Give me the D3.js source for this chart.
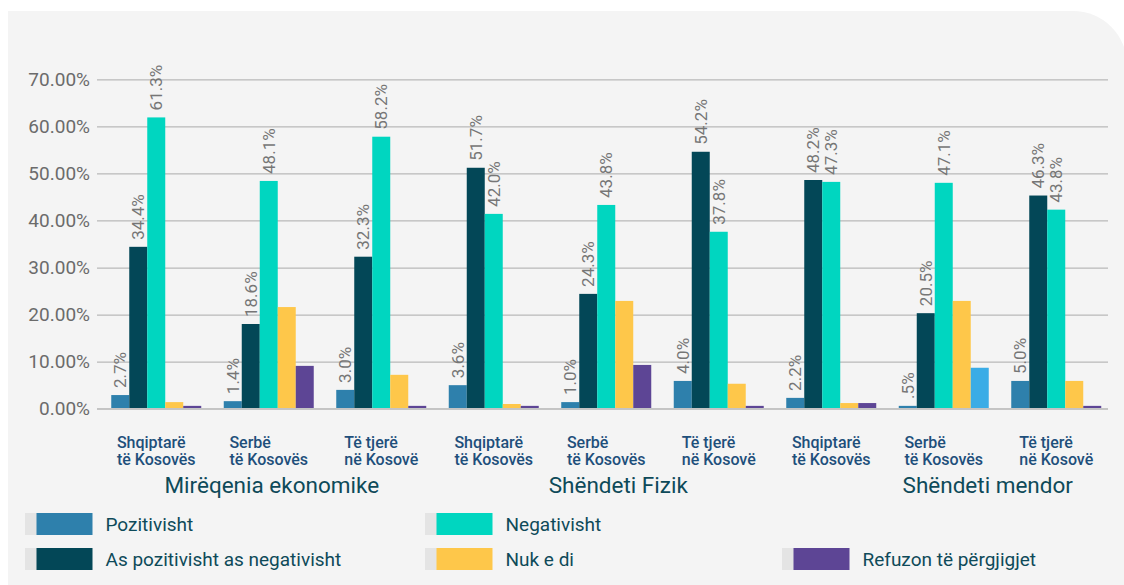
<!DOCTYPE html>
<html>
<head>
<meta charset="utf-8">
<script src="https://cdn.jsdelivr.net/npm/d3@7"></script>
<style>
  html, body { margin: 0; padding: 0; background: #fff; }
  svg { display: block; font-family: Roboto, "Noto Sans", sans-serif; }
</style>
</head>
<body>
<div id="container"></div>
<script>
// Categories (two text lines each) and the three topics they belong to
var groupLabels = [
  ["Shqiptarë", "të Kosovës"], ["Serbë", "të Kosovës"], ["Të tjerë", "në Kosovë"],
  ["Shqiptarë", "të Kosovës"], ["Serbë", "të Kosovës"], ["Të tjerë", "në Kosovë"],
  ["Shqiptarë", "të Kosovës"], ["Serbë", "të Kosovës"], ["Të tjerë", "në Kosovë"]
]
var topics = ["Mirëqenia ekonomike", "Shëndeti Fizik", "Shëndeti mendor"]

// Series names, in bar order
var seriesNames = ["Pozitivisht", "As pozitivisht as negativisht", "Negativisht", "Nuk e di", "Refuzon të përgjigjet"]

// Bar heights in %
var pozitivisht   = [2.9, 1.6, 4.0, 5.0, 1.4, 5.9, 2.3, 0.6, 5.9]
var asPozitivisht = [34.4, 18.0, 32.3, 51.2, 24.4, 54.6, 48.6, 20.3, 45.3]
var negativisht   = [61.9, 48.4, 57.8, 41.4, 43.3, 37.6, 48.2, 48.0, 42.3]
var nukEDi        = [1.4, 21.6, 7.2, 1.0, 22.9, 5.3, 1.2, 22.9, 5.9]
var refuzon       = [0.6, 9.1, 0.6, 0.6, 9.3, 0.6, 1.2, 8.7, 0.6]

// Printed data labels (only the first three series carry labels)
var labelsPozitivisht   = ["2.7%", "1.4%", "3.0%", "3.6%", "1.0%", "4.0%", "2.2%", ".5%", "5.0%"]
var labelsAsPozitivisht = ["34.4%", "18.6%", "32.3%", "51.7%", "24.3%", "54.2%", "48.2%", "20.5%", "46.3%"]
var labelsNegativisht   = ["61.3%", "48.1%", "58.2%", "42.0%", "43.8%", "37.8%", "47.3%", "47.1%", "43.8%"]

// Y axis ticks
var yTicks = [0, 10, 20, 30, 40, 50, 60, 70]

// Colours per series, plus the one bar that is drawn in a different blue
var colors = ["#2e80ac", "#034757", "#00d6c0", "#fec74a", "#5d4595"]
var oddBar = {group: 7, series: 4, color: "#3aace6"}

// Layout
var width = 1124, height = 585
var plot = {left: 97, right: 1108, top: 79.3, bottom: 408.7}
var topicShift = [3, 12, 44]
var legendColX = [25, 425, 782]
var legendRowY = [513, 548]
var legendSlots = [[0, 0], [0, 1], [1, 0], [1, 1], [2, 1]]

var values = [pozitivisht, asPozitivisht, negativisht, nukEDi, refuzon]
var labels = [labelsPozitivisht, labelsAsPozitivisht, labelsNegativisht, null, null]

var svg = d3.select("#container")
            .append("svg")
            .attr("width", width)
            .attr("height", height)

// Grey panel with rounded top-right corner
svg.append("path")
   .attr("d", "M8,11 H1073 A54,54 0 0 1 1127,65 V585 H8 Z")
   .attr("fill", "#f4f4f4")

// Scales
var groupIdx = d3.range(groupLabels.length)
var xScale = d3.scaleBand()
               .domain(groupIdx)
               .range([100, 1112.5])
               .paddingInner(0.2)
               .paddingOuter(0.1)

var xInner = d3.scaleBand()
               .domain(d3.range(seriesNames.length))
               .range([0, xScale.bandwidth()])

var yScale = d3.scaleLinear()
               .domain([0, 70])
               .range([plot.bottom, plot.top])

// Gridlines and tick labels
var yAxis = d3.axisLeft(yScale)
              .tickValues(yTicks)
              .tickSize(-(plot.right - plot.left))
              .tickPadding(7)
              .tickFormat(function(d) { return d3.format(".2f")(d) + "%" })

var yG = svg.append("g")
            .attr("transform", "translate(" + plot.left + ",0)")
            .call(yAxis)
yG.select(".domain").remove()
yG.selectAll(".tick line")
  .attr("stroke", "#b9b9b9")
  .attr("stroke-width", 1.3)
yG.selectAll(".tick text")
  .attr("fill", "#6b6b6b")
  .attr("font-size", 19)
  .attr("font-family", "Roboto, sans-serif")

// Bars
var cells = []
groupIdx.forEach(function(g) {
  values.forEach(function(series, s) {
    cells.push({group: g, series: s, value: series[g], label: labels[s] ? labels[s][g] : null})
  })
})

svg.append("g").selectAll("rect")
   .data(cells)
   .enter()
   .append("rect")
   .attr("x", function(d) { return xScale(d.group) + xInner(d.series) })
   .attr("y", function(d) { return yScale(d.value) })
   .attr("width", xInner.bandwidth())
   .attr("height", function(d) { return yScale(0) - yScale(d.value) })
   .attr("fill", function(d) {
     if (d.group == oddBar.group && d.series == oddBar.series) return oddBar.color
     return colors[d.series]
   })

// Baseline drawn over the bars
svg.append("line")
   .attr("x1", plot.left).attr("x2", plot.right)
   .attr("y1", yScale(0)).attr("y2", yScale(0))
   .attr("stroke", "#c4c4c4")
   .attr("stroke-width", 1.5)

// Rotated value labels
svg.append("g").selectAll("text")
   .data(cells.filter(function(d) { return d.label }))
   .enter()
   .append("text")
   .attr("transform", function(d) {
     var cx = xScale(d.group) + xInner(d.series) + xInner.bandwidth() / 2
     return "translate(" + cx + "," + (yScale(d.value) - 7) + ") rotate(-90)"
   })
   .attr("dy", "0.36em")
   .attr("fill", "#767676")
   .attr("font-size", 17)
   .text(function(d) { return d.label })

// Category labels: two left-aligned lines, block centred under the group
var catG = svg.append("g").selectAll("g")
   .data(groupIdx)
   .enter()
   .append("g")

catG.each(function(g) {
  var node = d3.select(this)
  var lines = groupLabels[g].map(function(t, i) {
    return node.append("text")
               .attr("y", 447.7 + i * 17.3)
               .attr("fill", "#1e4f7b")
               .attr("font-size", 16)
               .attr("font-weight", 500)
               .text(t)
  })
  var w = d3.max(lines, function(t) { return t.node().getComputedTextLength() })
  var left = xScale(g) + xScale.bandwidth() / 2 - w / 2
  lines.forEach(function(t) { t.attr("x", left) })
})

// Topic titles under each cluster of three groups
svg.append("g").selectAll("text")
   .data(topics)
   .enter()
   .append("text")
   .attr("x", function(d, i) {
     var first = xScale(i * 3), last = xScale(i * 3 + 2) + xScale.bandwidth()
     return (first + last) / 2 + topicShift[i]
   })
   .attr("y", 493)
   .attr("text-anchor", "middle")
   .attr("fill", "#0e4a59")
   .attr("font-size", 22.5)
   .text(function(d) { return d })

// Legend
var legend = svg.append("g").selectAll("g")
   .data(seriesNames)
   .enter()
   .append("g")
   .attr("transform", function(d, i) {
     var slot = legendSlots[i]
     return "translate(" + legendColX[slot[0]] + "," + legendRowY[slot[1]] + ")"
   })

legend.append("rect")
      .attr("width", 12).attr("height", 22)
      .attr("fill", "#e4e4e4")
legend.append("rect")
      .attr("x", 11.5).attr("width", 56).attr("height", 22)
      .attr("fill", function(d, i) { return colors[i] })
legend.append("text")
      .attr("x", 80.5)
      .attr("y", 17.8)
      .attr("fill", "#0e4a59")
      .attr("font-size", 19)
      .text(function(d) { return d })
</script>
</body>
</html>
